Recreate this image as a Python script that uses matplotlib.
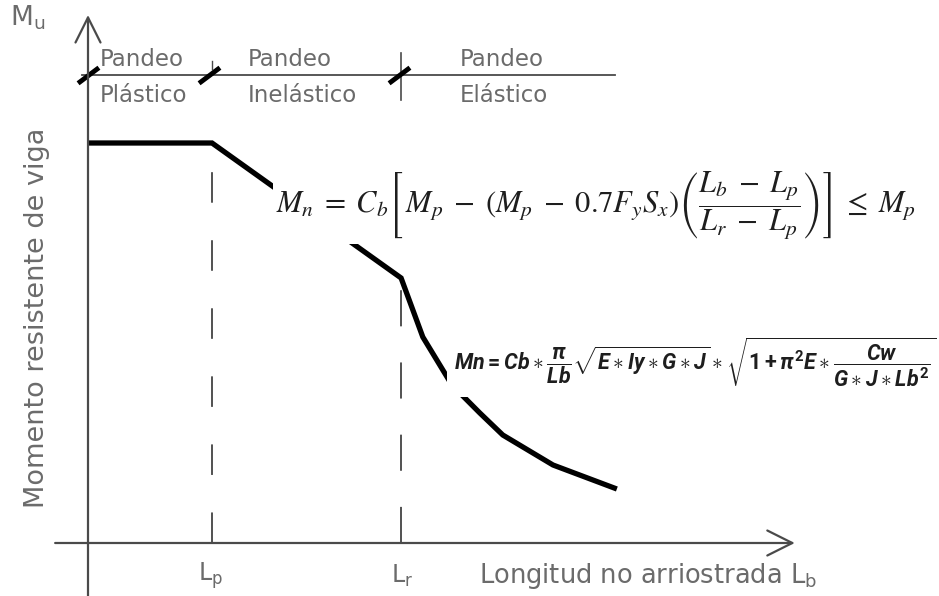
import numpy as np
import matplotlib
matplotlib.use("Agg")
import matplotlib.pyplot as plt
from matplotlib.path import Path

plt.rcParams['lines.scale_dashes'] = False
plt.rcParams['mathtext.it'] = "Roboto:italic:bold"
plt.rcParams['mathtext.rm'] = "Roboto:bold"
plt.rcParams['mathtext.bf'] = "Roboto:bold"

# Lateral-torsional buckling curve (Lb in m, Mn in kN*m)
Lp = 2.0
Lr = 5.05
Mp = 400
Lb_pts = [0.0, 2.0, 5.05, 5.40, 5.87, 6.32, 6.69, 7.50, 8.53]
Mn_pts = [400, 400, 265, 206, 158, 130, 108, 78, 54]

zone_top = ["Pandeo", "Pandeo", "Pandeo"]
zone_bottom = ["Plástico", "Inelástico", "Elástico"]
zone_x = [0.19, 2.58, 6.0]
band_y = 468

gray_txt = "#6b6b6b"
axis_col = "#4a4a4a"
lbl_font = ["DejaVu Sans"]

fig = plt.figure(figsize=(9.39, 5.96), dpi=100)
ax = fig.add_axes([0, 0, 1, 1])
ax.set_xlim(-88 / 62, 851 / 62)
ax.set_ylim(-53, 543)
ax.axis("off")

# axes with open arrow heads
arr = dict(arrowstyle="->,head_length=0.9,head_width=0.45", color=axis_col,
           lw=1.6, mutation_scale=20, shrinkA=0, shrinkB=0)
ax.annotate("", xy=(11.4, 0), xytext=(-0.53, 0), arrowprops=arr)
ax.annotate("", xy=(0, 528), xytext=(0, -53), arrowprops=arr)

# zone band
ax.plot([-0.1, 8.5], [band_y, band_y], color=axis_col, lw=1.3)
ax.plot([Lr, Lr], [band_y - 25, band_y + 22], color=axis_col, lw=1.2)
ax.plot([Lp, Lp], [band_y + 6, band_y + 14], color=axis_col, lw=1.0)
slash = Path([(-1, -0.75), (1, 0.75)], [Path.MOVETO, Path.LINETO])
ax.plot([0, Lp - 0.05, Lr - 0.03], [band_y] * 3, ls="none", marker=slash,
        ms=15, mew=3.5, mec="black", color="black")

for x, t, b in zip(zone_x, zone_top, zone_bottom):
    ax.text(x, band_y + 16, t, fontsize=16.5, color=gray_txt, family=lbl_font,
            ha="left", va="center")
    ax.text(x, band_y - 21, b, fontsize=16.5, color=gray_txt, family=lbl_font,
            ha="left", va="center")

# dashed verticals at Lp and Lr
ax.plot([Lp, Lp], [0, Mp], color="#222222", lw=1.1, dashes=(22, 27))
ax.plot([Lr, Lr], [0, Mn_pts[2]], color="#222222", lw=1.1, dashes=(26, 26))

# resisting moment curve
ax.plot(Lb_pts, Mn_pts, color="black", lw=3.8, solid_capstyle="butt",
        solid_joinstyle="miter")

# formulas
f1 = (r"$M_n\;=\;C_b\left[\,M_p\;-\;\left(M_p\;-\;0.7F_yS_x\right)"
      r"\left(\dfrac{L_b\;-\;L_p}{L_r\;-\;L_p}\right)\right]\;\leq\;M_p$")
ax.text(3.03, 338, f1, fontsize=22, color="#1e1e1e", math_fontfamily="stix",
        ha="left", va="center",
        bbox=dict(fc="white", ec="none", pad=2))

f2 = (r"$Mn=Cb\ast\dfrac{\pi}{Lb}\sqrt{E\ast Iy\ast G\ast J}\ast"
      r"\sqrt{1+\pi^2E\ast\dfrac{Cw}{G\ast J\ast Lb^2}}$")
ax.text(5.9, 180, f2, fontsize=15.5, color="#1e1e1e", math_fontfamily="custom",
        ha="left", va="center",
        bbox=dict(fc="white", ec="none", pad=5))

# axis labels
ax.text(-0.82, 225, "Momento resistente de viga", rotation=90, fontsize=19.5,
        color=gray_txt, family=lbl_font, ha="center", va="center")
ax.text(-1.25, 525, r"M$_\mathregular{u}$", fontsize=19, color=gray_txt,
        family=lbl_font, ha="left", va="center")
ax.text(Lp - 0.22, -33, r"L$_\mathregular{p}$", fontsize=17, color=gray_txt,
        family=lbl_font, ha="left", va="center")
ax.text(Lr - 0.16, -33, r"L$_\mathregular{r}$", fontsize=17, color=gray_txt,
        family=lbl_font, ha="left", va="center")
ax.text(6.3, -33, r"Longitud no arriostrada L$_\mathregular{b}$", fontsize=18.5,
        color=gray_txt, family=lbl_font, ha="left", va="center")

fig.savefig("out.png", dpi=100)
